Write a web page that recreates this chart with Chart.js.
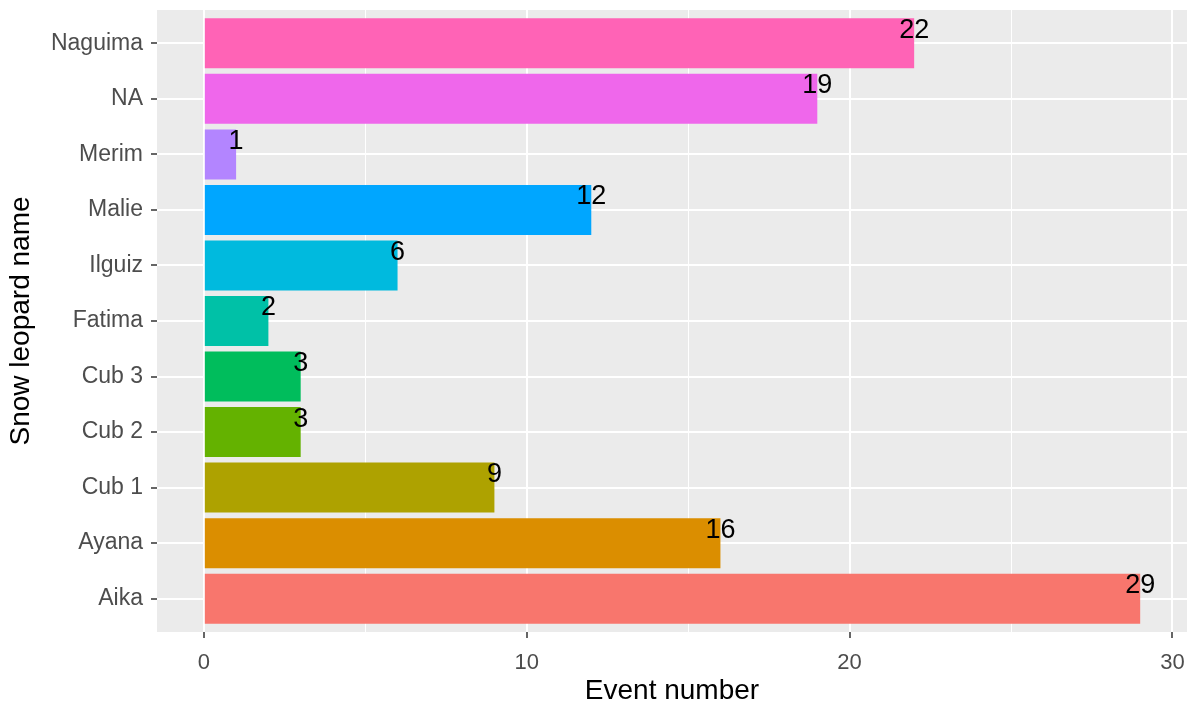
<!DOCTYPE html>
<html>
<head>
<meta charset="utf-8">
<script src="https://cdn.jsdelivr.net/npm/chart.js@4.4.1/dist/chart.umd.min.js"></script>
<style>
  html, body { margin: 0; padding: 0; background: #fff; }
  #wrap { width: 1196px; height: 708px; position: relative; }
</style>
</head>
<body>
<div id="wrap"><canvas id="leopardChart"></canvas></div>
<script>
// bottom to top, as in the plot
const names = ['Aika', 'Ayana', 'Cub 1', 'Cub 2', 'Cub 3', 'Fatima', 'Ilguiz', 'Malie', 'Merim', 'NA', 'Naguima'];
const events = [29, 16, 9, 3, 3, 2, 6, 12, 1, 19, 22];
const colors = ['#F8766D', '#DB8E00', '#AEA200', '#64B200', '#00BD5C', '#00C1A7', '#00BADE', '#00A6FF', '#B385FF', '#EF67EB', '#FF63B6'];
const xTicks = [0, 5, 10, 15, 20, 25, 30];

const FONT = '"Liberation Sans", Arial, sans-serif';

const panelBg = {
  id: 'panelBg',
  beforeDraw(chart) {
    const { ctx, chartArea: a } = chart;
    ctx.save();
    ctx.fillStyle = '#EBEBEB';
    ctx.fillRect(a.left, a.top, a.right - a.left, a.bottom - a.top);
    ctx.restore();
  }
};

const valueLabels = {
  id: 'valueLabels',
  afterDatasetsDraw(chart) {
    const { ctx, scales } = chart;
    ctx.save();
    ctx.font = '27px ' + FONT;
    ctx.fillStyle = '#000';
    ctx.textAlign = 'center';
    ctx.textBaseline = 'middle';
    events.forEach((v, i) => {
      const x = scales.x.getPixelForValue(v);
      const y = scales.y.getPixelForValue(i) - 13;
      ctx.fillText(String(v), x, y);
    });
    ctx.restore();
  }
};

new Chart(document.getElementById('leopardChart'), {
  type: 'bar',
  data: {
    datasets: [{
      data: names.map((n, i) => ({ x: events[i], y: i })),
      backgroundColor: colors,
      borderWidth: 0,
      barPercentage: 0.9,
      categoryPercentage: 1
    }]
  },
  options: {
    indexAxis: 'y',
    responsive: true,
    maintainAspectRatio: false,
    animation: false,
    layout: { padding: { top: 10, right: 9, left: 0, bottom: 0 } },
    plugins: {
      legend: { display: false },
      tooltip: { enabled: false }
    },
    scales: {
      x: {
        type: 'linear',
        min: -1.45,
        max: 30.45,
        afterBuildTicks: (s) => { s.ticks = xTicks.map(v => ({ value: v })); },
        afterFit: (s) => { s.height = 76; s.paddingLeft = 0; s.paddingRight = 0; },
        border: { display: false },
        grid: {
          color: '#FFFFFF',
          lineWidth: (c) => (c.tick && c.tick.value % 10 === 0 ? 2 : 1),
          tickColor: (c) => (c.tick && c.tick.value % 10 === 0 ? '#333333' : 'rgba(0,0,0,0)'),
          tickLength: 6,
          tickWidth: 1.5
        },
        ticks: {
          color: '#4D4D4D',
          font: { family: FONT, size: 22 },
          padding: 12,
          maxRotation: 0,
          callback: (v) => (v % 10 === 0 ? String(v) : '')
        },
        title: {
          display: true,
          text: 'Event number',
          color: '#000',
          font: { family: FONT, size: 28 },
          padding: { top: 0, bottom: 0 }
        }
      },
      y: {
        type: 'linear',
        min: -0.6,
        max: 10.6,
        offset: false,
        afterBuildTicks: (s) => { s.ticks = names.map((n, i) => ({ value: i })); },
        afterFit: (s) => { s.width = 157; s.paddingTop = 0; s.paddingBottom = 0; },
        border: { display: false },
        grid: {
          offset: false,
          color: '#FFFFFF',
          lineWidth: 2,
          tickColor: '#333333',
          tickLength: 6,
          tickWidth: 1.5
        },
        ticks: {
          color: '#4D4D4D',
          font: { family: FONT, size: 23 },
          padding: 8,
          autoSkip: false,
          callback: (v) => names[v] ?? ''
        },
        title: {
          display: true,
          text: 'Snow leopard name',
          color: '#000',
          font: { family: FONT, size: 28 },
          padding: { top: 4, bottom: 0 }
        }
      }
    }
  },
  plugins: [panelBg, valueLabels]
});
</script>
</body>
</html>
